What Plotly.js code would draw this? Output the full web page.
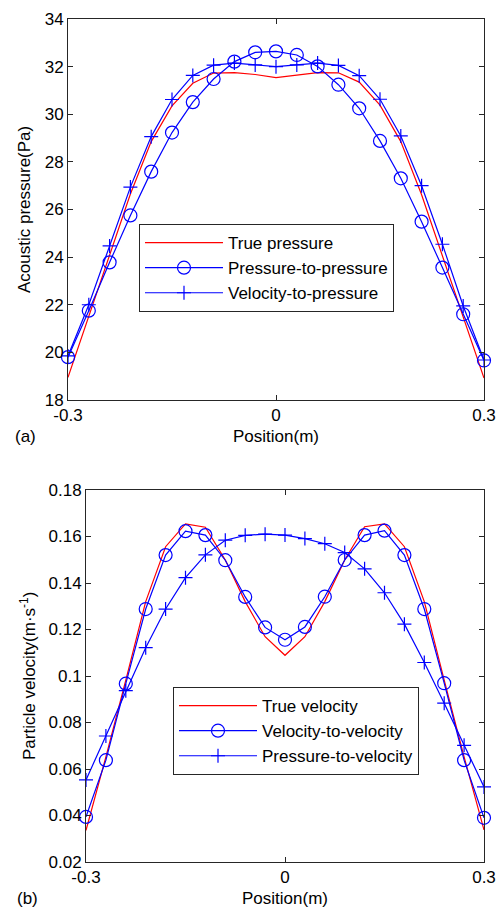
<!DOCTYPE html>
<html>
<head>
<meta charset="utf-8">
<script src="https://cdn.plot.ly/plotly-3.0.1.min.js"></script>
<style>html,body{margin:0;padding:0;background:#fff;}#chart{width:498px;height:909px;}</style>
</head>
<body>
<div id="chart"></div>
<script>
// ---- data ----
const position = [-0.3,-0.27,-0.24,-0.21,-0.18,-0.15,-0.12,-0.09,-0.06,-0.03,0,0.03,0.06,0.09,0.12,0.15,0.18,0.21,0.24,0.27,0.3];

const truePressure = [18.95,21.5,24.1,26.65,28.85,30.35,31.3,31.73,31.75,31.67,31.54,31.64,31.75,31.74,31.35,30.38,28.85,26.62,24.06,21.5,18.92];
const pressureToPressure = [19.8,21.75,23.78,25.75,27.59,29.23,30.51,31.48,32.21,32.6,32.64,32.49,32.01,31.24,30.25,28.88,27.31,25.49,23.56,21.6,19.66];
const velocityToPressure = [19.85,22.0,24.47,26.94,29.06,30.62,31.63,32.06,32.15,32.07,32.0,32.07,32.15,32.05,31.62,30.63,29.09,27.0,24.54,21.95,19.68];

const trueVelocity = [0.0336,0.0652,0.0982,0.132,0.1556,0.1654,0.164,0.1499,0.132,0.1169,0.1089,0.1169,0.132,0.1499,0.1642,0.1654,0.1556,0.132,0.0982,0.0652,0.0338];
const velocityToVelocity = [0.0394,0.0638,0.0967,0.1288,0.152,0.1623,0.1606,0.1498,0.134,0.1209,0.1156,0.1211,0.1341,0.1499,0.1606,0.1625,0.152,0.1288,0.0969,0.0638,0.039];
const pressureToVelocity = [0.0553,0.0742,0.0937,0.1122,0.1288,0.1423,0.1521,0.1584,0.1605,0.161,0.1606,0.1591,0.1569,0.1531,0.1461,0.1358,0.1223,0.1058,0.0883,0.0702,0.0523];

const xTicks = [-0.3, 0, 0.3];
const xTickText = ['-0.3', '0', '0.3'];
const pTicks = [18,20,22,24,26,28,30,32,34];
const vTicks = [0.02,0.04,0.06,0.08,0.1,0.12,0.14,0.16,0.18];
const vTickText = ['0.02','0.04','0.06','0.08','0.1','0.12','0.14','0.16','0.18'];

// ---- layout geometry ----
const W = 498, H = 909, L = 68, R = 14, T = 19, B = 47;
const PW = W - L - R, PH = H - T - B;
const px = x => (x - L) / PW;
const py = y => (H - B - y) / PH;

const FONT = 'Liberation Sans, Arial, sans-serif';
const BLUE = '#0000ff', RED = '#ff0000';

const lineRed = {color: RED, width: 1.2};
const lineBlue = {color: BLUE, width: 1.2};
const circ = {symbol: 'circle-open', size: 13, color: BLUE, line: {color: BLUE, width: 1.2}};
const plus = {symbol: 'cross-thin-open', size: 10, color: BLUE, line: {color: BLUE, width: 1.2}};

const traces = [
  {x: position, y: truePressure, name: 'True pressure', mode: 'lines', line: lineRed, xaxis: 'x', yaxis: 'y', legend: 'legend', cliponaxis: false},
  {x: position, y: pressureToPressure, name: 'Pressure-to-pressure', mode: 'lines+markers', line: lineBlue, marker: circ, xaxis: 'x', yaxis: 'y', legend: 'legend', cliponaxis: false},
  {x: position, y: velocityToPressure, name: 'Velocity-to-pressure', mode: 'lines+markers', line: lineBlue, marker: plus, xaxis: 'x', yaxis: 'y', legend: 'legend', cliponaxis: false},
  {x: position, y: trueVelocity, name: 'True velocity', mode: 'lines', line: lineRed, xaxis: 'x2', yaxis: 'y2', legend: 'legend2', cliponaxis: false},
  {x: position, y: velocityToVelocity, name: 'Velocity-to-velocity', mode: 'lines+markers', line: lineBlue, marker: circ, xaxis: 'x2', yaxis: 'y2', legend: 'legend2', cliponaxis: false},
  {x: position, y: pressureToVelocity, name: 'Pressure-to-velocity', mode: 'lines+markers', line: lineBlue, marker: plus, xaxis: 'x2', yaxis: 'y2', legend: 'legend2', cliponaxis: false}
];

const axBase = {
  showline: true, linecolor: '#262626', linewidth: 1, mirror: 'ticks',
  ticks: 'inside', ticklen: 5, tickwidth: 1, tickcolor: '#262626',
  showgrid: false, zeroline: false, fixedrange: true,
  tickfont: {family: FONT, size: 17, color: '#000'}
};

const legBase = {
  bgcolor: '#fff', bordercolor: '#262626', borderwidth: 1,
  font: {family: FONT, size: 17, color: '#000'},
  xanchor: 'left', yanchor: 'top', itemwidth: 78, tracegroupgap: 0,
  itemclick: false, itemdoubleclick: false
};

const ann = (text, x, y, extra) => Object.assign({
  text: text, xref: 'paper', yref: 'paper', x: px(x), y: py(y),
  xanchor: 'center', yanchor: 'middle', showarrow: false,
  font: {family: FONT, size: 17, color: '#000'}
}, extra || {});

const layout = {
  width: W, height: H,
  margin: {l: L, r: R, t: T, b: B, pad: 0},
  paper_bgcolor: '#fff', plot_bgcolor: '#fff',
  showlegend: true,
  xaxis: Object.assign({}, axBase, {domain: [0, 1], range: [-0.3, 0.3], tickvals: xTicks, ticktext: xTickText, anchor: 'y'}),
  yaxis: Object.assign({}, axBase, {domain: [py(400), py(T)], range: [18, 34], tickvals: pTicks, anchor: 'x'}),
  xaxis2: Object.assign({}, axBase, {domain: [px(86), 1], range: [-0.3, 0.3], tickvals: xTicks, ticktext: xTickText, anchor: 'y2'}),
  yaxis2: Object.assign({}, axBase, {domain: [0, py(490)], range: [0.02, 0.18], tickvals: vTicks, ticktext: vTickText, anchor: 'x2'}),
  legend: Object.assign({}, legBase, {x: px(139), y: py(224)}),
  legend2: Object.assign({}, legBase, {x: px(173), y: py(687)}),
  annotations: [
    ann('Acoustic pressure(Pa)', 24, 210, {textangle: -90}),
    ann('Position(m)', 276, 437),
    ann('(a)', 25, 437),
    ann('Particle velocity(m·s<sup>-1</sup>)', 28, 676, {textangle: -90}),
    ann('Position(m)', 285, 898),
    ann('(b)', 27, 898)
  ]
};

Plotly.newPlot('chart', traces, layout, {staticPlot: true, displayModeBar: false});
</script>
</body>
</html>
